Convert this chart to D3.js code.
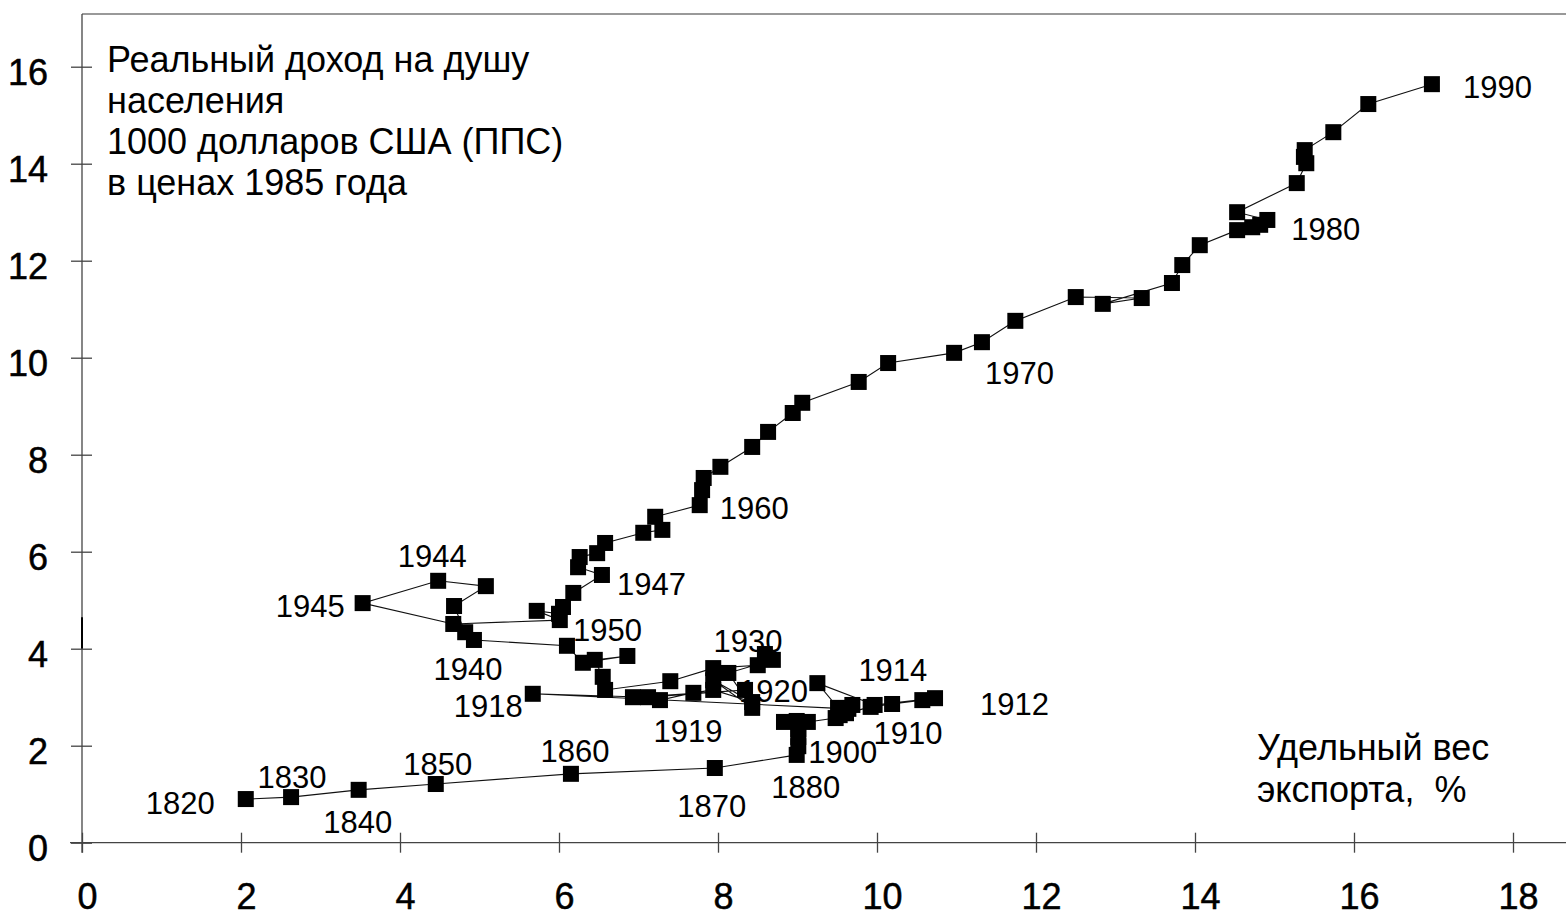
<!DOCTYPE html>
<html>
<head>
<meta charset="utf-8">
<script src="https://cdn.jsdelivr.net/npm/d3@7"></script>
<style>
  html, body { margin: 0; padding: 0; background: #fff; }
  svg { display: block; font-family: "Liberation Sans", Arial, sans-serif; }
</style>
</head>
<body>
<svg id="viz" width="1566" height="916"></svg>
<script>
// ----- data: one point per year, export share (%) vs real income per capita -----
const years = [
  1820, 1830, 1840, 1850, 1860, 1870, 1880, 1890,
  1900, 1901, 1902, 1903, 1904, 1905, 1906, 1907, 1908, 1909,
  1910, 1911, 1912, 1913, 1914, 1915, 1916, 1917, 1918, 1919,
  1920, 1921, 1922, 1923, 1924, 1925, 1926, 1927, 1928, 1929,
  1930, 1931, 1932, 1933, 1934, 1935, 1936, 1937, 1938, 1939,
  1940, 1941, 1942, 1943, 1944, 1945, 1946, 1947, 1948, 1949,
  1950, 1951, 1952, 1953, 1954, 1955, 1956, 1957, 1958, 1959,
  1960, 1961, 1962, 1963, 1964, 1965, 1966, 1967, 1968, 1969,
  1970, 1971, 1972, 1973, 1974, 1975, 1976, 1977, 1978, 1979,
  1980, 1981, 1982, 1983, 1984, 1985, 1986, 1987, 1988, 1989, 1990
];

const exportShare = [
  2.06, 2.63, 3.48, 4.45, 6.15, 7.96, 8.99, 9.01,
  9.01, 9.01, 8.83, 8.99, 9.13, 9.48, 9.60, 9.69, 9.53, 9.92,
  10.19, 10.57, 10.73, 9.97, 9.25, 9.51, 9.61, 9.64, 5.67, 7.12,
  8.34, 6.93, 7.27, 7.69, 7.94, 8.43, 7.94, 8.43, 8.13, 8.69,
  8.59, 8.50, 7.94, 7.40, 6.58, 6.55, 6.45, 6.86, 6.30, 6.10,
  4.93, 4.82, 4.68, 5.08, 4.48, 3.53, 4.67, 6.01, 5.72, 6.00,
  6.05, 6.18, 6.54, 6.24, 6.26, 6.48, 6.58, 7.06, 7.30, 7.21,
  7.77, 7.80, 7.82, 8.03, 8.43, 8.63, 8.94, 9.06, 9.77, 10.14,
  10.97, 11.32, 11.74, 12.50, 13.33, 12.84, 13.71, 13.84, 14.06, 14.53,
  14.72, 14.82, 14.91, 14.53, 15.28, 15.40, 15.37, 15.38, 15.74, 16.18, 16.98
];

const income = [
  0.90, 0.94, 1.09, 1.21, 1.42, 1.54, 1.81, 1.99,
  2.18, 2.34, 2.49, 2.51, 2.49, 2.57, 2.72, 2.84, 2.63, 2.80,
  2.86, 2.94, 2.98, 2.84, 3.29, 2.78, 2.67, 2.76, 3.07, 3.00,
  3.15, 3.00, 2.94, 3.09, 3.15, 2.90, 3.35, 2.78, 3.50, 3.77,
  3.89, 3.66, 3.60, 3.33, 3.15, 3.42, 3.77, 3.85, 3.71, 4.06,
  4.18, 4.34, 4.88, 5.29, 5.40, 4.94, 4.51, 4.59, 4.78, 4.72,
  4.86, 5.15, 5.52, 5.68, 5.89, 5.97, 6.18, 6.39, 6.45, 6.72,
  6.96, 7.27, 7.52, 7.75, 8.16, 8.47, 8.86, 9.07, 9.50, 9.89,
  10.10, 10.32, 10.76, 11.25, 11.23, 11.11, 11.54, 11.91, 12.32, 12.63,
  12.69, 12.74, 12.84, 13.00, 13.60, 14.01, 14.14, 14.28, 14.65, 15.23, 15.64
];

const xTicks = [0, 2, 4, 6, 8, 10, 12, 14, 16, 18];
const yTicks = [0, 2, 4, 6, 8, 10, 12, 14, 16];

// year captions: text, point it sits next to
const yearLabels = [
  { text: "1820", at: 1820 }, { text: "1830", at: 1830 }, { text: "1840", at: 1840 },
  { text: "1850", at: 1850 }, { text: "1860", at: 1860 }, { text: "1870", at: 1870 },
  { text: "1880", at: 1880 }, { text: "1900", at: 1900 }, { text: "1910", at: 1910 },
  { text: "1912", at: 1912 }, { text: "1914", at: 1914 }, { text: "1918", at: 1918 },
  { text: "1919", at: 1919 }, { text: "1920", at: 1920 }, { text: "1930", at: 1930 },
  { text: "1940", at: 1940 }, { text: "1944", at: 1944 }, { text: "1945", at: 1945 },
  { text: "1947", at: 1952 }, { text: "1950", at: 1950 }, { text: "1960", at: 1960 },
  { text: "1970", at: 1970 }, { text: "1980", at: 1980 }, { text: "1990", at: 1990 }
];

const yTitle = ["Реальный доход на душу", "населения", "1000 долларов США (ППС)", "в ценах 1985 года"];
const xTitle = ["Удельный вес", "экспорта,  %"];

// ----- layout -----
const svg = d3.select("#viz");
const x = d3.scaleLinear().domain([0, 18]).range([82, 1513]);
const y = d3.scaleLinear().domain([0, 16]).range([842.7, 66.7]);

const points = years.map((yr, i) => ({ year: yr, ex: exportShare[i], inc: income[i] }));
const byYear = new Map(points.map(d => [d.year, d]));

// label offsets in px relative to the anchor point (placement only)
const labelPlace = {
  "1820": ["end", -31, 15], "1830": ["middle", 1, -9], "1840": ["middle", -1, 43],
  "1850": ["middle", 2, -9], "1860": ["middle", 4, -12], "1870": ["middle", -3, 49],
  "1880": ["middle", 9, 43], "1900": ["start", 10, 26], "1910": ["middle", 16, 40],
  "1912": ["start", 45, 17], "1914": ["start", 41, -2], "1918": ["end", -10, 23],
  "1919": ["middle", 40, 45], "1920": ["start", -6, 12], "1930": ["middle", -17, -2],
  "1940": ["middle", -6, 40], "1944": ["middle", -6, -14], "1945": ["end", -18, 14],
  "1947": ["start", 15, 20], "1950": ["start", 10, 34], "1960": ["start", 20, 14],
  "1970": ["start", 31, 31], "1980": ["start", 39, 13], "1990": ["start", 31, 14]
};

const axisColor = "#444";
const x0 = x(0), yTop = 14, yBase = y(0);

// frame: top border, left and bottom axis lines
svg.append("line").attr("x1", x0).attr("x2", 1566).attr("y1", yTop).attr("y2", yTop)
  .attr("stroke", "#777").attr("stroke-width", 1.5);
svg.append("line").attr("x1", x0).attr("x2", x0).attr("y1", yTop).attr("y2", yBase + 10)
  .attr("stroke", axisColor).attr("stroke-width", 1.3);
svg.append("line").attr("x1", x0 - 12).attr("x2", 1566).attr("y1", yBase).attr("y2", yBase)
  .attr("stroke", axisColor).attr("stroke-width", 1.3);
// darker stub on the y axis just above 4
svg.append("line").attr("x1", x0).attr("x2", x0).attr("y1", y(4)).attr("y2", y(4.65))
  .attr("stroke", "#000").attr("stroke-width", 2);

// axes (ticks cross the axis line)
const gx = svg.append("g").attr("transform", `translate(0,${yBase})`)
  .call(d3.axisBottom(x).tickValues(xTicks).tickSizeInner(10).tickSizeOuter(0).tickPadding(31));
gx.select(".domain").remove();
gx.selectAll(".tick line").attr("y1", -10).attr("stroke", axisColor).attr("stroke-width", 1.3);
gx.selectAll(".tick text").attr("font-size", 36).attr("fill", "#000").attr("dx", 5)
  .attr("stroke", "#000").attr("stroke-width", 0.5)
  .attr("font-family", "Liberation Sans, Arial, sans-serif");

const gy = svg.append("g").attr("transform", `translate(${x0},0)`)
  .call(d3.axisLeft(y).tickValues(yTicks).tickSizeInner(11).tickSizeOuter(0).tickPadding(23));
gy.select(".domain").remove();
gy.selectAll(".tick line").attr("x1", 10).attr("stroke", axisColor).attr("stroke-width", 1.3);
gy.selectAll(".tick text").attr("font-size", 36).attr("fill", "#000").attr("dy", "0.5em")
  .attr("stroke", "#000").attr("stroke-width", 0.5)
  .attr("font-family", "Liberation Sans, Arial, sans-serif");

// axis titles
svg.append("text").attr("x", 107).attr("y", 72)
  .attr("font-size", 36).attr("fill", "#000")
  .selectAll("tspan").data(yTitle).join("tspan")
  .attr("x", 107).attr("dy", (d, i) => i ? 41 : 0).text(d => d);

svg.append("text").attr("x", 1257).attr("y", 760)
  .attr("font-size", 36).attr("fill", "#000")
  .selectAll("tspan").data(xTitle).join("tspan")
  .attr("x", 1257).attr("dy", (d, i) => i ? 42 : 0)
  .style("white-space", "pre").text(d => d);

// connecting line
const line = d3.line().x(d => x(d.ex)).y(d => y(d.inc));
svg.append("path").datum(points)
  .attr("d", line).attr("fill", "none")
  .attr("stroke", "#111").attr("stroke-width", 1.1);

// year labels (under the markers, as in the original)
svg.append("g").selectAll("text").data(yearLabels).join("text")
  .attr("x", d => x(byYear.get(d.at).ex) + labelPlace[d.text][1])
  .attr("y", d => y(byYear.get(d.at).inc) + labelPlace[d.text][2])
  .attr("text-anchor", d => labelPlace[d.text][0])
  .attr("font-size", 31).attr("fill", "#000")
  .text(d => d.text);

// square markers
const s = 16;
svg.append("g").selectAll("rect").data(points).join("rect")
  .attr("x", d => x(d.ex) - s / 2).attr("y", d => y(d.inc) - s / 2)
  .attr("width", s).attr("height", s).attr("fill", "#000");
</script>
</body>
</html>
